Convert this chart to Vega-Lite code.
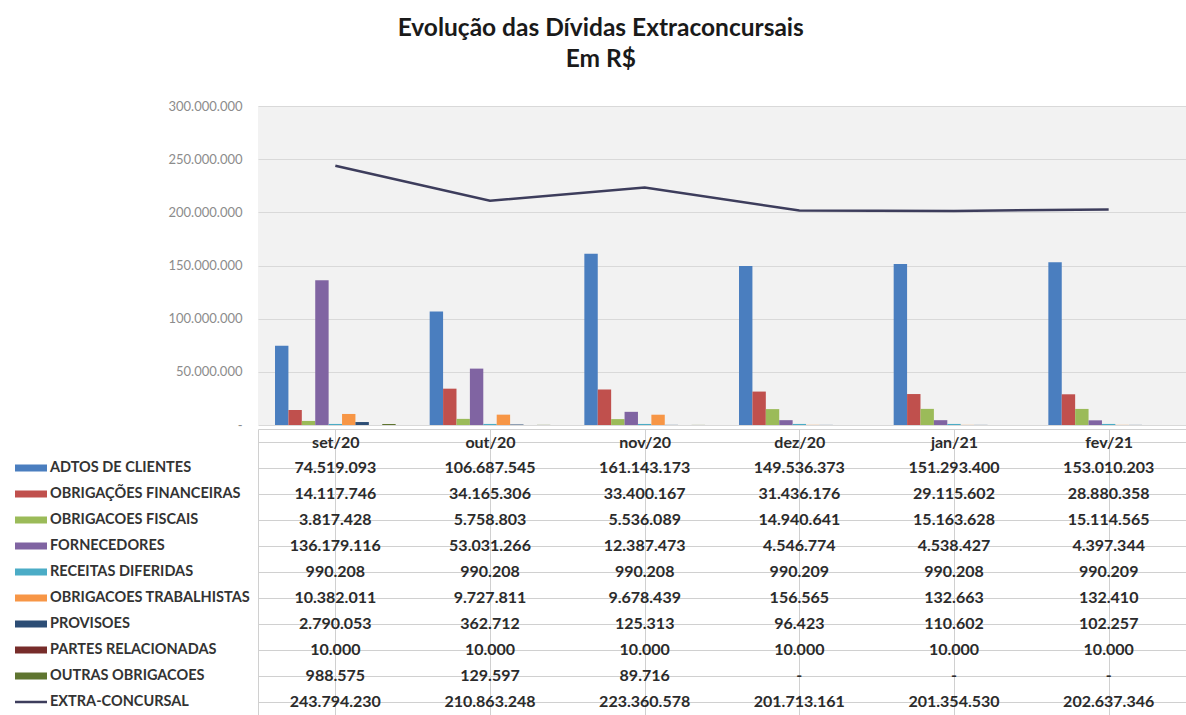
{
  "$schema": "https://vega.github.io/schema/vega-lite/v6.json",
  "background": "white",
  "padding": {"left": 15, "top": 15, "right": 0, "bottom": 0},
  "title": {
    "text": ["Evolução das Dívidas Extraconcursais", "Em R$"],
    "anchor": "middle",
    "frame": "bounds",
    "font": "Lato",
    "fontSize": 24.5,
    "fontWeight": "bold",
    "color": "#1a1a1a",
    "lineHeight": 31,
    "offset": 28
  },
  "datasets": {
    "debts": [
      {"month": "set/20", "series": "ADTOS DE CLIENTES", "value": 74519093},
      {"month": "out/20", "series": "ADTOS DE CLIENTES", "value": 106687545},
      {"month": "nov/20", "series": "ADTOS DE CLIENTES", "value": 161143173},
      {"month": "dez/20", "series": "ADTOS DE CLIENTES", "value": 149536373},
      {"month": "jan/21", "series": "ADTOS DE CLIENTES", "value": 151293400},
      {"month": "fev/21", "series": "ADTOS DE CLIENTES", "value": 153010203},
      {"month": "set/20", "series": "OBRIGAÇÕES FINANCEIRAS", "value": 14117746},
      {"month": "out/20", "series": "OBRIGAÇÕES FINANCEIRAS", "value": 34165306},
      {"month": "nov/20", "series": "OBRIGAÇÕES FINANCEIRAS", "value": 33400167},
      {"month": "dez/20", "series": "OBRIGAÇÕES FINANCEIRAS", "value": 31436176},
      {"month": "jan/21", "series": "OBRIGAÇÕES FINANCEIRAS", "value": 29115602},
      {"month": "fev/21", "series": "OBRIGAÇÕES FINANCEIRAS", "value": 28880358},
      {"month": "set/20", "series": "OBRIGACOES FISCAIS", "value": 3817428},
      {"month": "out/20", "series": "OBRIGACOES FISCAIS", "value": 5758803},
      {"month": "nov/20", "series": "OBRIGACOES FISCAIS", "value": 5536089},
      {"month": "dez/20", "series": "OBRIGACOES FISCAIS", "value": 14940641},
      {"month": "jan/21", "series": "OBRIGACOES FISCAIS", "value": 15163628},
      {"month": "fev/21", "series": "OBRIGACOES FISCAIS", "value": 15114565},
      {"month": "set/20", "series": "FORNECEDORES", "value": 136179116},
      {"month": "out/20", "series": "FORNECEDORES", "value": 53031266},
      {"month": "nov/20", "series": "FORNECEDORES", "value": 12387473},
      {"month": "dez/20", "series": "FORNECEDORES", "value": 4546774},
      {"month": "jan/21", "series": "FORNECEDORES", "value": 4538427},
      {"month": "fev/21", "series": "FORNECEDORES", "value": 4397344},
      {"month": "set/20", "series": "RECEITAS DIFERIDAS", "value": 990208},
      {"month": "out/20", "series": "RECEITAS DIFERIDAS", "value": 990208},
      {"month": "nov/20", "series": "RECEITAS DIFERIDAS", "value": 990208},
      {"month": "dez/20", "series": "RECEITAS DIFERIDAS", "value": 990209},
      {"month": "jan/21", "series": "RECEITAS DIFERIDAS", "value": 990208},
      {"month": "fev/21", "series": "RECEITAS DIFERIDAS", "value": 990209},
      {"month": "set/20", "series": "OBRIGACOES TRABALHISTAS", "value": 10382011},
      {"month": "out/20", "series": "OBRIGACOES TRABALHISTAS", "value": 9727811},
      {"month": "nov/20", "series": "OBRIGACOES TRABALHISTAS", "value": 9678439},
      {"month": "dez/20", "series": "OBRIGACOES TRABALHISTAS", "value": 156565},
      {"month": "jan/21", "series": "OBRIGACOES TRABALHISTAS", "value": 132663},
      {"month": "fev/21", "series": "OBRIGACOES TRABALHISTAS", "value": 132410},
      {"month": "set/20", "series": "PROVISOES", "value": 2790053},
      {"month": "out/20", "series": "PROVISOES", "value": 362712},
      {"month": "nov/20", "series": "PROVISOES", "value": 125313},
      {"month": "dez/20", "series": "PROVISOES", "value": 96423},
      {"month": "jan/21", "series": "PROVISOES", "value": 110602},
      {"month": "fev/21", "series": "PROVISOES", "value": 102257},
      {"month": "set/20", "series": "PARTES RELACIONADAS", "value": 10000},
      {"month": "out/20", "series": "PARTES RELACIONADAS", "value": 10000},
      {"month": "nov/20", "series": "PARTES RELACIONADAS", "value": 10000},
      {"month": "dez/20", "series": "PARTES RELACIONADAS", "value": 10000},
      {"month": "jan/21", "series": "PARTES RELACIONADAS", "value": 10000},
      {"month": "fev/21", "series": "PARTES RELACIONADAS", "value": 10000},
      {"month": "set/20", "series": "OUTRAS OBRIGACOES", "value": 988575},
      {"month": "out/20", "series": "OUTRAS OBRIGACOES", "value": 129597},
      {"month": "nov/20", "series": "OUTRAS OBRIGACOES", "value": 89716},
      {"month": "dez/20", "series": "OUTRAS OBRIGACOES", "value": null},
      {"month": "jan/21", "series": "OUTRAS OBRIGACOES", "value": null},
      {"month": "fev/21", "series": "OUTRAS OBRIGACOES", "value": null},
      {"month": "set/20", "series": "EXTRA-CONCURSAL", "value": 243794230},
      {"month": "out/20", "series": "EXTRA-CONCURSAL", "value": 210863248},
      {"month": "nov/20", "series": "EXTRA-CONCURSAL", "value": 223360578},
      {"month": "dez/20", "series": "EXTRA-CONCURSAL", "value": 201713161},
      {"month": "jan/21", "series": "EXTRA-CONCURSAL", "value": 201354530},
      {"month": "fev/21", "series": "EXTRA-CONCURSAL", "value": 202637346}
    ]
  },
  "data": {"name": "debts"},
  "bounds": "flush",
  "spacing": 4,
  "vconcat": [
    {
      "width": 928,
      "height": 319,
      "view": {"fill": "#f2f2f2", "stroke": null},
      "encoding": {
        "x": {
          "field": "month",
          "type": "nominal",
          "sort": ["set/20", "out/20", "nov/20", "dez/20", "jan/21", "fev/21"],
          "scale": {"paddingInner": 0.22, "paddingOuter": 0.11},
          "axis": null
        },
        "y": {
          "field": "value",
          "type": "quantitative",
          "scale": {"domain": [0, 300000000], "nice": false},
          "axis": {
            "title": null,
            "values": [0, 50000000, 100000000, 150000000, 200000000, 250000000, 300000000],
            "format": ",d",
            "labelExpr": "datum.value === 0 ? '-' : datum.label",
            "domain": false,
            "ticks": false,
            "tickSize": 0,
            "labelPadding": 16,
            "labelFont": "Lato",
            "labelFontSize": 13,
            "labelColor": "#8c8c8c",
            "grid": true,
            "gridColor": "#d9d9d9",
            "gridWidth": 1
          }
        },
        "color": {
          "field": "series",
          "type": "nominal",
          "scale": {
            "domain": ["ADTOS DE CLIENTES", "OBRIGAÇÕES FINANCEIRAS", "OBRIGACOES FISCAIS", "FORNECEDORES", "RECEITAS DIFERIDAS", "OBRIGACOES TRABALHISTAS", "PROVISOES", "PARTES RELACIONADAS", "OUTRAS OBRIGACOES", "EXTRA-CONCURSAL"],
            "range": ["#4a7ebf", "#c0504d", "#9bbb59", "#8064a2", "#4bacc6", "#f79646", "#2c4d75", "#772c2a", "#5f7530", "#3d3d5c"]
          },
          "legend": {
            "orient": "none",
            "legendX": -243,
            "legendY": 349,
            "title": null,
            "direction": "vertical",
            "padding": 0,
            "symbolSize": 1024,
            "symbolStrokeWidth": 0,
            "clipHeight": 26,
            "rowPadding": 0,
            "labelFont": "Lato",
            "labelFontSize": 14.5,
            "labelFontWeight": "bold",
            "labelColor": "#333333",
            "labelOffset": 3,
            "labelLimit": 260,
            "encode": {
              "symbols": {
                "update": {
                  "shape": {"signal": "datum.value === 'EXTRA-CONCURSAL' ? 'M-1,-0.08L1,-0.08L1,0.08L-1,0.08Z' : 'M-1,-0.22L1,-0.22L1,0.22L-1,0.22Z'"},
                  "size": {"value": 1024},
                  "fill": {"scale": "color", "field": "value"},
                  "strokeWidth": {"value": 0},
                  "opacity": {"value": 1}
                }
              }
            }
          }
        }
      },
      "layer": [
        {
          "transform": [{"filter": "datum.series !== 'EXTRA-CONCURSAL'"}],
          "mark": {"type": "bar"},
          "encoding": {
            "xOffset": {
              "field": "series",
              "type": "nominal",
              "sort": ["ADTOS DE CLIENTES", "OBRIGAÇÕES FINANCEIRAS", "OBRIGACOES FISCAIS", "FORNECEDORES", "RECEITAS DIFERIDAS", "OBRIGACOES TRABALHISTAS", "PROVISOES", "PARTES RELACIONADAS", "OUTRAS OBRIGACOES"],
              "scale": {"paddingInner": 0, "paddingOuter": 0}
            }
          }
        },
        {
          "transform": [{"filter": "datum.series === 'EXTRA-CONCURSAL'"}],
          "mark": {"type": "line", "strokeWidth": 2.5},
          "encoding": {}
        }
      ]
    },
    {
      "width": 928,
      "height": 286,
      "view": {"stroke": "#d0d0d0", "fill": null},
      "mark": {"type": "text", "font": "Lato", "fontSize": 16, "fontWeight": "bold", "color": "#2b2b2b"},
      "encoding": {
        "x": {
          "field": "month",
          "type": "nominal",
          "sort": ["set/20", "out/20", "nov/20", "dez/20", "jan/21", "fev/21"],
          "scale": {"paddingInner": 0, "paddingOuter": 0},
          "axis": {
            "orient": "top",
            "title": null,
            "domain": false,
            "ticks": false,
            "tickSize": 0,
            "labelAngle": 0,
            "labelBaseline": "middle",
            "labelPadding": -13,
            "bandPosition": 0,
            "labelFont": "Lato",
            "labelFontSize": 16,
            "labelFontWeight": "bold",
            "labelColor": "#2b2b2b",
            "grid": true,
            "gridColor": "#d0d0d0"
          }
        },
        "y": {
          "field": "series",
          "type": "nominal",
          "scale": {
            "domain": ["(cabeçalho)", "ADTOS DE CLIENTES", "OBRIGAÇÕES FINANCEIRAS", "OBRIGACOES FISCAIS", "FORNECEDORES", "RECEITAS DIFERIDAS", "OBRIGACOES TRABALHISTAS", "PROVISOES", "PARTES RELACIONADAS", "OUTRAS OBRIGACOES", "EXTRA-CONCURSAL"],
            "paddingInner": 0,
            "paddingOuter": 0
          },
          "axis": {
            "title": null,
            "labels": false,
            "ticks": false,
            "domain": false,
            "grid": true,
            "bandPosition": 0,
            "gridColor": "#d0d0d0"
          }
        },
        "text": {
          "condition": {"test": "datum.value === null", "value": "-"},
          "field": "value",
          "type": "quantitative",
          "format": ",d"
        }
      }
    }
  ],
  "config": {
    "locale": {"number": {"decimal": ",", "thousands": ".", "grouping": [3], "currency": ["R$ ", ""]}},
    "font": "Lato"
  }
}
